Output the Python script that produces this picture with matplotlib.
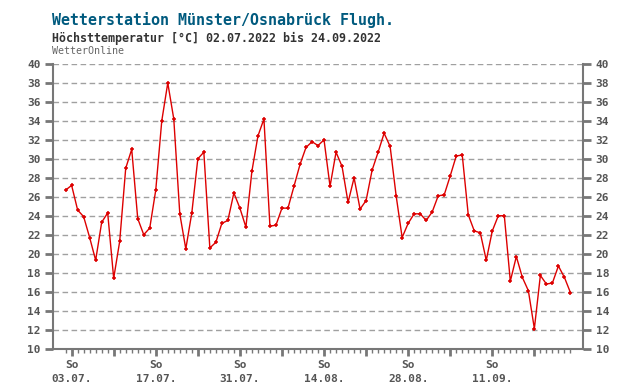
import matplotlib
matplotlib.use("Agg")
from matplotlib import pyplot as plt
import numpy as np
import pandas as pd

# daily max temperature, 02.07.2022 .. 24.09.2022
start_date = "2022-07-02"
end_date = "2022-09-24"
tmax = [26.7, 27.2, 24.6, 23.9, 21.7, 19.3, 23.3, 24.3, 17.4, 21.3,
        29.0, 31.0, 23.7, 22.0, 22.7, 26.7, 34.0, 38.0, 34.2, 24.2,
        20.5, 24.3, 30.0, 30.7, 20.6, 21.2, 23.2, 23.5, 26.4, 24.8,
        22.8, 28.7, 32.4, 34.2, 22.9, 23.0, 24.8, 24.8, 27.1, 29.4,
        31.2, 31.8, 31.4, 32.0, 27.1, 30.7, 29.2, 25.4, 28.0, 24.7,
        25.6, 28.8, 30.7, 32.7, 31.3, 26.1, 21.7, 23.2, 24.2, 24.2,
        23.5, 24.4, 26.1, 26.2, 28.2, 30.3, 30.4, 24.1, 22.4, 22.2,
        19.3, 22.4, 24.0, 24.0, 17.1, 19.7, 17.5, 16.1, 12.1, 17.7,
        16.8, 16.9, 18.7, 17.5, 15.9]
yticks = list(range(10, 41, 2))

title = "Wetterstation Münster/Osnabrück Flugh."
subtitle = "Höchsttemperatur [°C] 02.07.2022 bis 24.09.2022"
source = "WetterOnline"

dates = pd.date_range(start_date, end_date, freq="D")
days = np.arange(len(dates))

mono = "DejaVu Sans Mono"
tick_col = "#555555"
axis_col = "#777777"

fig = plt.figure(figsize=(6.4, 3.9), dpi=100)
ax = fig.add_axes([0.0828, 0.1064, 0.8282, 0.7296])

ax.plot(days, tmax, color="#dd0000", lw=1.0, marker="+", ms=3.2, mew=1.1)

ax.set_xlim(-2.1, 86.1)
ax.set_ylim(10, 40)

ax.set_yticks(yticks)
ax.set_yticklabels([str(v) for v in yticks])
ax.grid(axis="y", color="#a0a0a0", ls=(0, (4, 2.5)), lw=1.0)
ax.set_axisbelow(True)

ax.tick_params(axis="y", which="major", direction="out", length=6, width=2,
               color=axis_col, labelcolor=tick_col, left=True, right=True,
               labelleft=True, labelright=True, pad=3)
for lab in ax.get_yticklabels():
    lab.set_fontfamily(mono)
    lab.set_fontweight("bold")
    lab.set_fontsize(8)

# daily minor ticks, Sundays as major ticks, label every second Sunday
sundays = [d for d in days if dates[d].dayofweek == 6]
ax.set_xticks(days, minor=True)
ax.set_xticks(sundays)
ax.set_xticklabels(["So\n" + dates[d].strftime("%d.%m.") if i % 2 == 0 else ""
                    for i, d in enumerate(sundays)])
ax.tick_params(axis="x", which="minor", direction="out", length=3, width=1,
               color=axis_col)
ax.tick_params(axis="x", which="major", direction="out", length=5, width=2,
               color=axis_col, labelcolor=tick_col, pad=3)
for lab in ax.get_xticklabels():
    lab.set_fontfamily(mono)
    lab.set_fontweight("bold")
    lab.set_fontsize(8)
    lab.set_linespacing(1.55)

for side in ["left", "right", "bottom"]:
    ax.spines[side].set_color(axis_col)
    ax.spines[side].set_linewidth(1.5)
ax.spines["top"].set_visible(False)

fig.text(52 / 640, 1 - 20 / 390, title, family=mono, weight="bold",
         fontsize=10.8, color="#005a7e", va="center", ha="left")
fig.text(52 / 640, 1 - 38 / 390, subtitle, family=mono, weight="bold",
         fontsize=8.4, color="#333333", va="center", ha="left")
fig.text(52 / 640, 1 - 51 / 390, source, family=mono,
         fontsize=7.2, color="#666666", va="center", ha="left")

fig.savefig("out.png", dpi=100)
